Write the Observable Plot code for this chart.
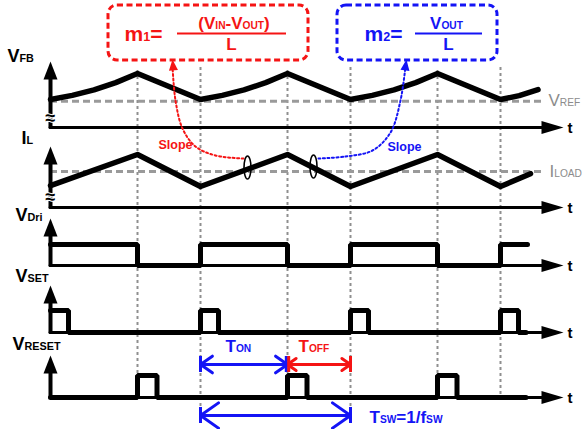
<!DOCTYPE html>
<html><head><meta charset="utf-8">
<script src="https://cdn.jsdelivr.net/npm/d3@7"></script>
<script src="https://cdn.jsdelivr.net/npm/@observablehq/plot@0.6"></script>
<style>html,body{margin:0;padding:0;background:#fff}svg{display:block}</style>
</head><body><div id="chart"></div>
<script>
// ---------------- DATA (time in switching periods, levels normalised: 0 = valley/low, 1 = peak/high)
const vfbT = [0, 0.145, 0.29, 0.435, 0.58, 1.0, 1.145, 1.29, 1.435, 1.58, 2.0, 2.145, 2.29, 2.435, 2.58, 3.0, 3.125, 3.25];
const vfbV = [0, 0.16, 0.37, 0.65, 1, 0, 0.16, 0.37, 0.65, 1, 0, 0.16, 0.37, 0.65, 1, 0, 0.15, 0.38];
const ilT = [0, 0.58, 1, 1.58, 2, 2.58, 3, 3.2];
const ilV = [0.03, 1, 0, 1, 0, 1, 0, 0.4];
const driT = [0, 0.58, 1, 1.58, 2, 2.58, 3, 3.18];
const driV = [1, 0, 1, 0, 1, 0, 1, 1];
const setT = [0, 0.12, 1, 1.12, 2, 2.12, 3, 3.12, 3.17];
const setV = [1, 0, 1, 0, 1, 0, 1, 0, 0];
const resetT = [0, 0.58, 0.71, 1.58, 1.71, 2.58, 2.71, 3.17];
const resetV = [0, 1, 0, 1, 0, 1, 0, 0];
const vrefLevel = -0.07;
const iloadLevel = 0.47;
const gridT = [0.58, 1, 1.58, 2, 2.58, 3];
const laneNames = ["VFB", "IL", "VDri", "VSET", "VRESET"];
const laneLabels = ["V_{FB}", "I_{L}", "V_{Dri}", "V_{SET}", "V_{RESET}"];
const refLabels = ["V_{REF}", "I_{LOAD}"];
const axisLabel = "t";
const tOnSpan = [1, 1.58], tOffSpan = [1.58, 2], tSwSpan = [1, 2];

// ---------------- LAYOUT
const L = 50, P = 150;                 // pixel of t = 0, pixels per period
const at = px => (px - L) / P;         // annotation helper
const RED = "#f51414", BLUE = "#1414f5", GREY = "#8c8c8c";
const FONT = "'Liberation Sans', Arial, sans-serif";
const lanes = [
  {axis: 127, zero: 99,  span: 26, tip: 61,  brk: 118, lx: 7,  ly: 56},
  {axis: 207, zero: 186, span: 32, tip: 146, brk: 197, lx: 21, ly: 138},
  {axis: 265, zero: 265, span: 21, tip: 218, brk: null, lx: 15, ly: 215},
  {axis: 332, zero: 332, span: 22, tip: 285, brk: null, lx: 15, ly: 276},
  {axis: 397, zero: 397, span: 22, tip: 355, brk: null, lx: 12, ly: 344}
].map((d, i) => ({...d, name: laneNames[i], label: laneLabels[i]}));
const lane = n => lanes[laneNames.indexOf(n)];
const rows = (T, V, n) => T.map((t, i) => ({t, y: lane(n).zero - V[i] * lane(n).span}));

// custom glyphs
const headRight = {draw(c) {c.moveTo(0, 0); c.lineTo(-22, -6.5); c.lineTo(-22, 6.5); c.closePath();}};
const headUp = {draw(c) {c.moveTo(0, 0); c.lineTo(-7, 18); c.lineTo(7, 18); c.closePath();}};
const smallUp = {draw(c) {c.moveTo(0, 0); c.lineTo(-4.5, 11); c.lineTo(4.5, 11); c.closePath();}};
const ellipse = {draw(c) {
  const a = 3.5, b = 11.5, k = 0.5523;
  c.moveTo(a, 0);
  c.bezierCurveTo(a, b * k, a * k, b, 0, b);
  c.bezierCurveTo(-a * k, b, -a, b * k, -a, 0);
  c.bezierCurveTo(-a, -b * k, -a * k, -b, 0, -b);
  c.bezierCurveTo(a * k, -b, a, -b * k, a, 0);
  c.closePath();
}};

const txt = (data, o) => Plot.text(data, {x: "x", y: "y", text: "s", fontFamily: FONT, fontWeight: "bold", ...o});

const redSlope = [[243,158],[215,155],[195,146],[182,128],[175,100],[172,66]].map(([x,y]) => ({t: at(x), y}));
const blueSlope = [[318,158],[345,156],[372,150],[390,132],[400,100],[405,66]].map(([x,y]) => ({t: at(x), y}));

const chart = Plot.plot({
  width: 583, height: 429,
  marginLeft: 0, marginRight: 0, marginTop: 0, marginBottom: 0,
  x: {domain: [0, 1], range: [L, L + P], axis: null},
  y: {domain: [0, 429], range: [0, 429], axis: null},
  style: {fontFamily: FONT, background: "white", overflow: "visible"},
  marks: [
    // dashed time grid
    Plot.ruleX(gridT, {x: d => d, y1: d => (d % 1 === 0 ? 67 : 70), y2: d => (d === 1 || d === 2 ? 422 : 397),
      stroke: "#8f8f8f", strokeWidth: 2, strokeDasharray: "3,3"}),
    // reference levels
    Plot.ruleY([{n: "VFB", v: vrefLevel}, {n: "IL", v: iloadLevel}], {
      y: d => lane(d.n).zero - d.v * lane(d.n).span, x1: 0, x2: at(545),
      stroke: "#9a9a9a", strokeWidth: 3, strokeDasharray: "7,4"}),
    // horizontal axes
    Plot.ruleY(lanes, {y: "axis", x1: 0, x2: at(548), stroke: "#000", strokeWidth: 3, strokeLinecap: "round"}),
    Plot.dot(lanes, {x: at(563), y: "axis", symbol: headRight, fill: "#000", stroke: "none"}),
    Plot.text(lanes, {x: at(567), y: d => d.axis + 1, text: () => axisLabel, textAnchor: "start", fontSize: 15, fontWeight: "bold", fontFamily: FONT}),
    // vertical axes
    Plot.ruleX(lanes, {x: 0, y1: "axis", y2: d => d.tip + 12, stroke: "#000", strokeWidth: 4, strokeLinecap: "round"}),
    Plot.dot(lanes, {x: 0, y: "tip", symbol: headUp, fill: "#000", stroke: "none"}),
    Plot.text(lanes.filter(d => d.brk), {x: 0, y: "brk", text: () => "≈", fontSize: 18, fontWeight: "bold",
      fill: "#000", stroke: "#fff", strokeWidth: 2}),
    // waveforms
    Plot.line(rows(vfbT, vfbV, "VFB"), {x: "t", y: "y", stroke: "#000", strokeWidth: 5.5, strokeLinejoin: "round", strokeLinecap: "round"}),
    Plot.line(rows(ilT, ilV, "IL"), {x: "t", y: "y", stroke: "#000", strokeWidth: 5.5, strokeLinejoin: "round", strokeLinecap: "round"}),
    Plot.line(rows(driT, driV, "VDri"), {x: "t", y: "y", curve: "step-after", stroke: "#000", strokeWidth: 5, strokeLinejoin: "miter", strokeLinecap: "round"}),
    Plot.line(rows(setT, setV, "VSET"), {x: "t", y: "y", curve: "step-after", stroke: "#000", strokeWidth: 5, strokeLinejoin: "miter", strokeLinecap: "round"}),
    Plot.line(rows(resetT, resetV, "VRESET"), {x: "t", y: "y", curve: "step-after", stroke: "#000", strokeWidth: 5, strokeLinejoin: "miter", strokeLinecap: "round"}),
    // slope annotations
    Plot.line(redSlope, {x: "t", y: "y", curve: "catmull-rom", stroke: RED, strokeWidth: 2, strokeDasharray: "2,2.5"}),
    Plot.line(blueSlope, {x: "t", y: "y", curve: "catmull-rom", stroke: BLUE, strokeWidth: 2, strokeDasharray: "2,2.5"}),
    Plot.dot([{t: at(172), y: 59, r: -5}], {x: "t", y: "y", rotate: "r", symbol: smallUp, fill: RED, stroke: "none"}),
    Plot.dot([{t: at(406), y: 59, r: 8}], {x: "t", y: "y", rotate: "r", symbol: smallUp, fill: BLUE, stroke: "none"}),
    Plot.dot([{t: at(247), y: 167}, {t: at(313), y: 166}], {x: "t", y: "y", symbol: ellipse, fill: "none", stroke: "#000", strokeWidth: 1.6}),
    // formula boxes
    Plot.rect([{x1: at(108), x2: at(308), y1: 5, y2: 60}], {x1: "x1", x2: "x2", y1: "y1", y2: "y2", fill: "none", stroke: RED, strokeWidth: 3, strokeDasharray: "6,3.5", rx: 9}),
    Plot.rect([{x1: at(337), x2: at(497), y1: 5, y2: 60}], {x1: "x1", x2: "x2", y1: "y1", y2: "y2", fill: "none", stroke: BLUE, strokeWidth: 3, strokeDasharray: "6,3.5", rx: 9}),
    Plot.ruleY([33], {x1: at(177), x2: at(286), stroke: RED, strokeWidth: 2}),
    Plot.ruleY([33], {x1: at(415), x2: at(482), stroke: BLUE, strokeWidth: 2}),
    txt([{x: at(124), y: 33.5, s: "m_{1}="}], {fill: RED, fontSize: 21, textAnchor: "start"}),
    txt([{x: at(233.5), y: 23.5, s: "(V_{IN}-V_{OUT})"}, {x: at(231), y: 44.5, s: "L"}], {fill: RED, fontSize: 17, textAnchor: "middle"}),
    txt([{x: at(364), y: 33.5, s: "m_{2}="}], {fill: BLUE, fontSize: 21, textAnchor: "start"}),
    txt([{x: at(446), y: 23.5, s: "V_{OUT}"}, {x: at(448), y: 44.5, s: "L"}], {fill: BLUE, fontSize: 17, textAnchor: "middle"}),
    txt([{x: at(175), y: 144, s: "Slope"}], {fill: RED, fontSize: 12.5, textAnchor: "middle"}),
    txt([{x: at(404), y: 146, s: "Slope"}], {fill: BLUE, fontSize: 12.5, textAnchor: "middle"}),
    // lane labels
    Plot.text(lanes, {x: d => at(d.lx), y: "ly", text: "label", textAnchor: "start", fontSize: 18, fontWeight: "bold", fontFamily: FONT, fill: "#000"}),
    txt([{x: at(548), y: 100.5, s: refLabels[0]}, {x: at(549), y: 171, s: refLabels[1]}], {fill: GREY, fontSize: 17, fontWeight: "normal", textAnchor: "start"}),
    // timing arrows
    Plot.arrow([
      {x1: (tOnSpan[0] + tOnSpan[1]) / 2, x2: tOnSpan[0], y: 364},
      {x1: (tOnSpan[0] + tOnSpan[1]) / 2, x2: tOnSpan[1], y: 364},
      {x1: (tSwSpan[0] + tSwSpan[1]) / 2, x2: tSwSpan[0], y: 415},
      {x1: (tSwSpan[0] + tSwSpan[1]) / 2, x2: tSwSpan[1], y: 415}
    ], {x1: "x1", x2: "x2", y1: "y", y2: "y", stroke: BLUE, strokeWidth: 3, headLength: 11, headAngle: 70}),
    Plot.arrow([
      {x1: (tOffSpan[0] + tOffSpan[1]) / 2, x2: tOffSpan[0], y: 364},
      {x1: (tOffSpan[0] + tOffSpan[1]) / 2, x2: tOffSpan[1], y: 364}
    ], {x1: "x1", x2: "x2", y1: "y", y2: "y", stroke: RED, strokeWidth: 3, headLength: 11, headAngle: 70}),
    Plot.ruleX([{x: tOnSpan[0], y: 364}, {x: tOnSpan[1] - 0.008, y: 364}, {x: tSwSpan[0], y: 415}, {x: tSwSpan[1], y: 415}],
      {x: "x", y1: d => d.y - 8, y2: d => d.y + 8, stroke: BLUE, strokeWidth: 3}),
    Plot.ruleX([{x: tOffSpan[0] + 0.008, y: 364}, {x: tOffSpan[1], y: 364}],
      {x: "x", y1: d => d.y - 8, y2: d => d.y + 8, stroke: RED, strokeWidth: 3}),
    txt([{x: at(225), y: 346.5, s: "T_{ON}"}], {fill: BLUE, fontSize: 17, textAnchor: "start"}),
    txt([{x: at(298), y: 346.5, s: "T_{OFF}"}], {fill: RED, fontSize: 17, textAnchor: "start"}),
    txt([{x: at(369), y: 417.5, s: "T_{SW}=1/f_{SW}"}], {fill: BLUE, fontSize: 17, textAnchor: "start"})
  ]
});

// render "_{...}" as small subscript tspans on the same baseline
d3.select(chart).selectAll("text").each(function() {
  const s = this.textContent;
  if (!s.includes("_{")) return;
  const parts = s.split(/(_\{[^}]*\})/).filter(p => p);
  while (this.firstChild) this.removeChild(this.firstChild);
  for (const p of parts) {
    const m = p.match(/^_\{([^}]*)\}$/);
    const ts = document.createElementNS("http://www.w3.org/2000/svg", "tspan");
    if (m) { ts.textContent = m[1]; ts.setAttribute("font-size", "0.6em"); }
    else ts.textContent = p;
    this.appendChild(ts);
  }
});
document.getElementById("chart").appendChild(chart);
</script>
</body></html>
